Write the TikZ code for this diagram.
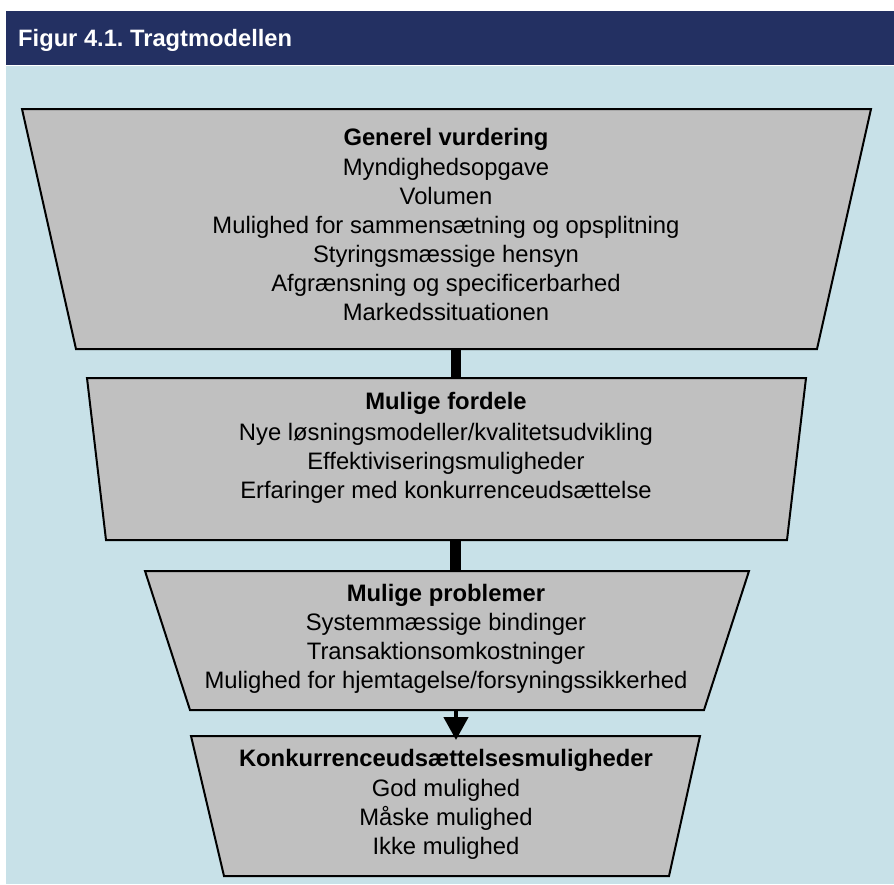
\documentclass[tikz,border=0pt]{standalone}
\usepackage{fontspec}
\setmainfont{Liberation Sans}
\usetikzlibrary{arrows.meta}
\frenchspacing
\definecolor{navy}{RGB}{35,48,98}
\definecolor{paleblue}{RGB}{200,225,232}
\definecolor{boxgray}{RGB}{192,192,192}
\tikzset{
  funnel/.style={draw=black, fill=boxgray, line width=2pt, line join=miter},
  ln/.style={anchor=base, inner sep=0pt, font=\fontsize{23.8}{28}\selectfont},
  hd/.style={ln, font=\fontsize{23.8}{28}\selectfont\bfseries},
  link/.style={draw=black, line width=10.5pt},
}
\begin{document}
\begin{tikzpicture}[x=1pt,y=-1pt]
\useasboundingbox (0,0) rectangle (894,884);
\fill[white] (0,0) rectangle (894,884);
\fill[navy] (6,11) rectangle (894,65);
\fill[paleblue] (6,66) rectangle (894,884);
\node[anchor=base west, inner sep=0pt, text=white, font=\fontsize{23.7}{28}\selectfont\bfseries] (title) at (18,46.5) {Figur 4.1. Tragtmodellen};

% funnel stages
\draw[funnel] (22,109) -- (871,109) -- (817,349) -- (76,349) -- cycle;
\draw[funnel] (87,378) -- (806,378) -- (787,540) -- (106,540) -- cycle;
\draw[funnel] (145,571) -- (749,571) -- (704,710) -- (190,710) -- cycle;
\draw[funnel] (191,736) -- (700,736) -- (669,876) -- (224,876) -- cycle;

\coordinate (b1) at (456,350);
\coordinate (t2) at (456,377);
\coordinate (b2) at (455.5,541);
\coordinate (t3) at (455.5,570);
\coordinate (b3) at (456,711);
\coordinate (t4) at (456,740);

\draw[link] (b1) -- (t2);
\draw[link] (b2) -- (t3);
\draw[line width=4.5pt, -{Triangle[width=24pt,length=23pt]}] (b3) -- (t4);

% stage 1
\node[hd] (h1) at (446,145) {Generel vurdering};
\node[ln] (a1) at (446,175) {Myndighedsopgave};
\node[ln] (a2) at (446,204) {Volumen};
\node[ln] (a3) at (446,233) {Mulighed for sammensætning og opsplitning};
\node[ln] (a4) at (446,262) {Styringsmæssige hensyn};
\node[ln] (a5) at (446,291) {Afgrænsning og specificerbarhed};
\node[ln] (a6) at (446,320) {Markedssituationen};
% stage 2
\node[hd] (h2) at (446,409) {Mulige fordele};
\node[ln] (b1t) at (446,440) {Nye løsningsmodeller/kvalitetsudvikling};
\node[ln] (b2t) at (446,469) {Effektiviseringsmuligheder};
\node[ln] (b3t) at (446,498) {Erfaringer med konkurrenceudsættelse};
% stage 3
\node[hd] (h3) at (446,601) {Mulige problemer};
\node[ln] (c1) at (446,630) {Systemmæssige bindinger};
\node[ln] (c2) at (446,659) {Transaktionsomkostninger};
\node[ln] (c3) at (446,688) {Mulighed for hjemtagelse/forsyningssikkerhed};
% stage 4
\node[hd] (h4) at (446,766) {Konkurrenceudsættelsesmuligheder};
\node[ln] (d1) at (446,796) {God mulighed};
\node[ln] (d2) at (446,825) {Måske mulighed};
\node[ln] (d3) at (446,854) {Ikke mulighed};
\end{tikzpicture}
\end{document}
